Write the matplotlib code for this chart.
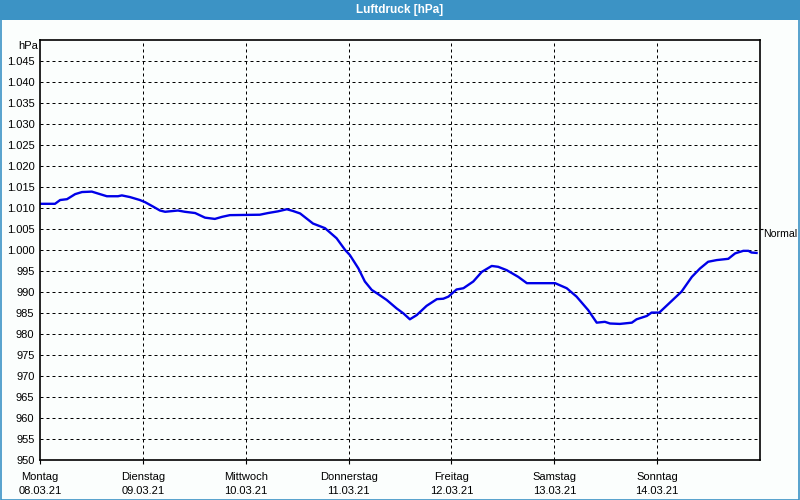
import matplotlib
matplotlib.use("Agg")
import matplotlib.pyplot as plt
from matplotlib.patches import Rectangle

# ---- data ----
hours = [0, 3.5, 4.7, 6.3, 8.2, 9.8, 12.1, 14.0, 15.6, 18.2, 19.1, 21.0, 23.3, 24.5,
         26.1, 28.0, 29.2, 32.2, 33.8, 36.2, 38.5, 40.8, 42.5, 44.3, 51.3, 53.2, 55.5,
         57.6, 59.0, 60.7, 63.7, 66.5, 69.2, 71.2, 72.3, 74.3, 75.8, 77.4, 78.9, 80.9,
         83.2, 84.8, 86.3, 87.9, 90.2, 92.6, 94.1, 95.3, 97.2, 98.8, 101.1, 103.1,
         105.4, 106.9, 108.9, 111.6, 113.6, 120.2, 122.9, 125.2, 127.9, 129.9, 131.8,
         133.0, 135.3, 138.1, 139.2, 141.6, 142.7, 144.5, 147.0, 149.7, 152.1, 154.0,
         155.9, 157.9, 160.6, 162.2, 164.1, 165.3, 166.0, 167.2]
pressure = [1011.0, 1011.0, 1011.9, 1012.1, 1013.3, 1013.8, 1013.9, 1013.3, 1012.8,
            1012.8, 1013.0, 1012.6, 1011.9, 1011.4, 1010.5, 1009.4, 1009.1, 1009.4,
            1009.1, 1008.8, 1007.7, 1007.4, 1007.9, 1008.3, 1008.4, 1008.8, 1009.2,
            1009.7, 1009.3, 1008.7, 1006.3, 1005.2, 1002.8, 1000.0, 998.8, 995.6,
            992.5, 990.5, 989.5, 988.1, 986.1, 984.9, 983.5, 984.5, 986.7, 988.3,
            988.4, 988.9, 990.6, 990.9, 992.5, 994.8, 996.2, 996.0, 995.2, 993.6,
            992.1, 992.1, 990.9, 988.9, 985.7, 982.7, 982.9, 982.5, 982.4, 982.7,
            983.5, 984.3, 985.1, 985.1, 987.5, 990.1, 993.6, 995.6, 997.2, 997.6,
            997.9, 999.2, 999.8, 999.8, 999.4, 999.3]
day_names = ["Montag", "Dienstag", "Mittwoch", "Donnerstag", "Freitag", "Samstag", "Sonntag"]
day_dates = ["08.03.21", "09.03.21", "10.03.21", "11.03.21", "12.03.21", "13.03.21", "14.03.21"]
y_ticks = list(range(950, 1050, 5))
normal_value = 1005
title = "Luftdruck [hPa]"
unit = "hPa"

# ---- styling ----
bg = "#fbfefd"
bar = "#3c93c5"
plt.rcParams["font.family"] = ["Liberation Sans", "DejaVu Sans"]
plt.rcParams["font.size"] = 8

fig = plt.figure(figsize=(8, 5), dpi=100, facecolor=bg)
ax = fig.add_axes([40/800, 40/500, 720/800, 420/500], facecolor=bg)

ax.plot(hours, pressure, color="#0000e8", lw=1.7, solid_joinstyle="round")

ax.set_xlim(0, 168)
ax.set_ylim(950, 1050)

def fmt(v):
    return f"{v:,}".replace(",", ".")

ax.set_yticks(y_ticks)
ax.set_yticklabels([fmt(v) for v in y_ticks])
ax.tick_params(axis="y", length=0, pad=4, labelsize=8)
ax.set_xticks([i * 24 for i in range(7)])
ax.set_xticklabels([f"{n}\n{d}" for n, d in zip(day_names, day_dates)], linespacing=1.45)
ax.tick_params(axis="x", length=3, width=0.8, pad=6, labelsize=8, direction="out")

for v in y_ticks[1:]:
    ax.axhline(v, color="black", lw=0.72, ls=(0, (3, 3)), zorder=1)
for i in range(1, 7):
    ax.axvline(i * 24, color="black", lw=0.72, ls=(0, (3, 3)), zorder=1)

for s in ax.spines.values():
    s.set_color("black")
    s.set_linewidth(1.2)

ax2 = ax.twinx()
ax2.set_ylim(950, 1050)
ax2.set_yticks([normal_value])
ax2.set_yticklabels(["Normal"])
ax2.tick_params(axis="y", length=2, width=0.8, pad=0.5, labelsize=7.6)
for lab in ax2.get_yticklabels():
    lab.set_verticalalignment("top")
for s in ax2.spines.values():
    s.set_visible(False)

fig.text(38/800, 1 - 46/500, unit, ha="right", va="center", fontsize=8)

# title bar and frame
fig.patches.append(Rectangle((0, 1 - 20/500), 1, 20/500, transform=fig.transFigure,
                             facecolor=bar, edgecolor="none", zorder=0))
fig.patches.append(Rectangle((0.5/800, 0.5/500), 1 - 1.5/800, 1 - 1.5/500, transform=fig.transFigure,
                             facecolor="none", edgecolor=bar, lw=1.2, zorder=5))
fig.text(0.5, 1 - 10/500, title, ha="center", va="center", color="white",
         fontsize=8.5, fontweight="bold")

fig.savefig("out.png", dpi=100, facecolor=bg)
